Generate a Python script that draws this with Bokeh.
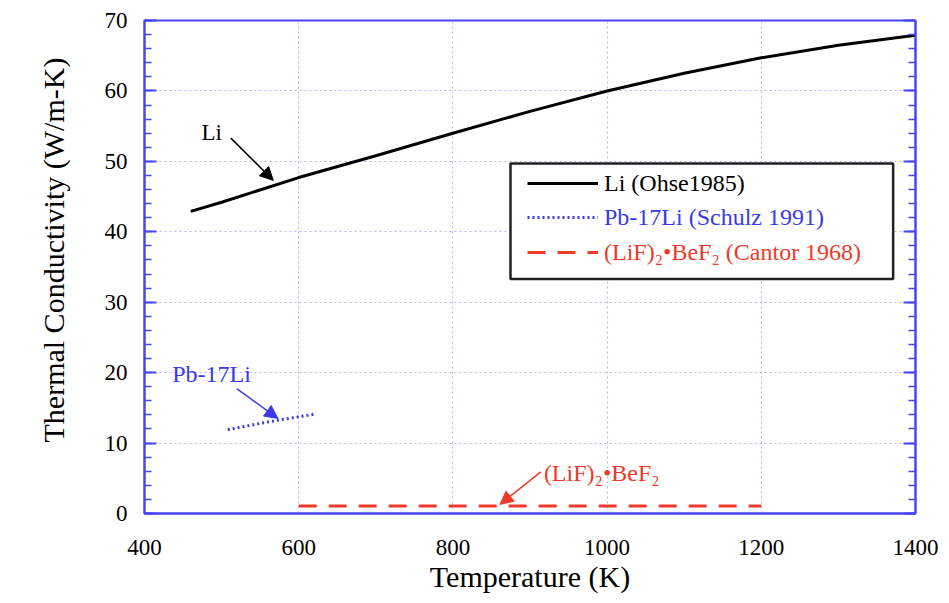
from bokeh.plotting import figure
from bokeh.models import (Range1d, LinearAxis, SingleIntervalTicker, Label, Arrow, Title,
                          NormalHead, Legend, LegendItem, BoxAnnotation)
from bokeh.embed import file_html
from bokeh.resources import INLINE

# ---- data ----
li_T = [460, 500, 600, 700, 800, 900, 1000, 1100, 1200, 1300, 1400]
li_k = [42.9, 44.2, 47.7, 50.8, 54.0, 57.1, 60.0, 62.5, 64.7, 66.5, 67.9]
pb_T = [508, 560, 620]
pb_k = [11.9, 13.0, 14.1]
salt_T = [600, 1200]
salt_k = [1.05, 1.05]

labels = ["Li (Ohse1985)", "Pb-17Li (Schulz 1991)", "(LiF)\u2082\u2022BeF\u2082 (Cantor 1968)"]
x_title = "Temperature (K)"
y_title = "Thermal Conductivity (W/m-K)"
y_tick_values = [0, 10, 20, 30, 40, 50, 60, 70]

FONT = "Liberation Serif"
BLUE_AX = "#4646f0"
BLUE = "#3a3ae6"
RED = "#ee3a2a"

p = figure(width=948, height=598, x_range=Range1d(400, 1400), y_range=Range1d(0, 70),
           output_backend="svg", toolbar_location=None,
           min_border_left=144, min_border_right=33, min_border_top=20, min_border_bottom=85)
p.background_fill_color = "white"
p.border_fill_color = "white"
p.outline_line_color = BLUE_AX
p.outline_line_width = 2

p.xaxis.ticker = SingleIntervalTicker(interval=200, num_minor_ticks=0)
p.yaxis.ticker = SingleIntervalTicker(interval=10, num_minor_ticks=5)
p.xgrid.ticker = SingleIntervalTicker(interval=200, num_minor_ticks=0)
p.ygrid.ticker = SingleIntervalTicker(interval=10, num_minor_ticks=5)
p.grid.grid_line_color = "#b4b4f4"
p.grid.grid_line_dash = "2 3"
p.grid.grid_line_width = 1

for ax in (p.xaxis[0], p.yaxis[0]):
    ax.axis_line_color = BLUE_AX
    ax.axis_line_width = 2
    ax.major_label_text_font = FONT
    ax.major_label_text_font_size = "23px"
    ax.major_label_text_color = "black"
    ax.axis_label_text_font = FONT
    ax.axis_label_text_font_size = "30px"
    ax.axis_label_text_font_style = "normal"
    ax.axis_label_text_color = "black"

p.xaxis.axis_label = x_title
p.xaxis.major_tick_line_color = None
p.xaxis.minor_tick_line_color = None
p.xaxis.major_label_standoff = 20
p.xaxis.axis_label_standoff = 2

p.yaxis.major_tick_in = 12
p.yaxis.major_tick_out = 0
p.yaxis.minor_tick_in = 7
p.yaxis.minor_tick_out = 0
p.yaxis.major_tick_line_color = BLUE_AX
p.yaxis.minor_tick_line_color = BLUE_AX
p.yaxis.major_tick_line_width = 2
p.yaxis.minor_tick_line_width = 1.5
p.yaxis.major_label_standoff = 17

# y-axis title as a left-side title, starting above the frame's bottom like the reference
p.add_layout(Title(text=y_title, align="left", vertical_align="top", offset=71, standoff=60,
                   text_font=FONT, text_font_size="30px", text_font_style="normal",
                   text_color="black"), "left")

ra = LinearAxis(ticker=SingleIntervalTicker(interval=10, num_minor_ticks=5),
                major_label_overrides={v: "" for v in y_tick_values},
                major_label_text_color=None, major_label_standoff=0,
                axis_line_color=BLUE_AX, axis_line_width=2,
                major_tick_in=12, major_tick_out=0, minor_tick_in=7, minor_tick_out=0,
                major_tick_line_color=BLUE_AX, minor_tick_line_color=BLUE_AX,
                major_tick_line_width=2, minor_tick_line_width=1.5)
p.add_layout(ra, "right")

# ---- series ----
r_li = p.line(li_T, li_k, line_color="black", line_width=3)
r_pb = p.line(pb_T, pb_k, line_color=BLUE, line_width=3, line_dash="2 3")
r_salt = p.line(salt_T, salt_k, line_color=RED, line_width=3, line_dash="18 12")

# ---- annotations ----
p.add_layout(Label(x=474, y=54.1, text="Li", text_font=FONT, text_font_size="23px",
                   text_color="black", text_baseline="middle"))
p.add_layout(Arrow(x_start=512, y_start=53.3, x_end=567, y_end=47.3,
                   line_color="black", line_width=1.5,
                   end=NormalHead(size=13, fill_color="black", line_color="black")))
p.add_layout(Label(x=436, y=19.8, text="Pb-17Li", text_font=FONT, text_font_size="24px",
                   text_color=BLUE, text_baseline="middle"))
p.add_layout(Arrow(x_start=520, y_start=17.7, x_end=573, y_end=13.5,
                   line_color=BLUE, line_width=1.5,
                   end=NormalHead(size=13, fill_color=BLUE, line_color=BLUE)))
p.add_layout(Label(x=918, y=5.7, text="(LiF)\u2082\u2022BeF\u2082", text_font=FONT,
                   text_font_size="24px", text_color=RED, text_baseline="middle"))
p.add_layout(Arrow(x_start=914, y_start=5.9, x_end=861, y_end=1.3,
                   line_color=RED, line_width=1.5,
                   end=NormalHead(size=13, fill_color=RED, line_color=RED)))

# ---- legend (box + one row per series so each label keeps its colour) ----
p.add_layout(BoxAnnotation(left=874.7, right=1371, top=49.7, bottom=33.3,
                           fill_color="white", fill_alpha=1.0,
                           line_color="#222222", line_width=2.5, line_alpha=1.0))
rows = [(r_li, labels[0], "black", 316), (r_pb, labels[1], BLUE, 282), (r_salt, labels[2], RED, 247)]
for r, lab, col, yoff in rows:
    leg = Legend(items=[LegendItem(label=lab, renderers=[r])], location=(383, yoff),
                 padding=0, margin=0, spacing=0, glyph_width=71, glyph_height=28,
                 label_height=28, label_standoff=6,
                 label_text_font=FONT, label_text_font_size="24px", label_text_color=col,
                 border_line_alpha=0, background_fill_alpha=0)
    p.add_layout(leg)

open("out.html", "w").write(file_html(p, INLINE))
